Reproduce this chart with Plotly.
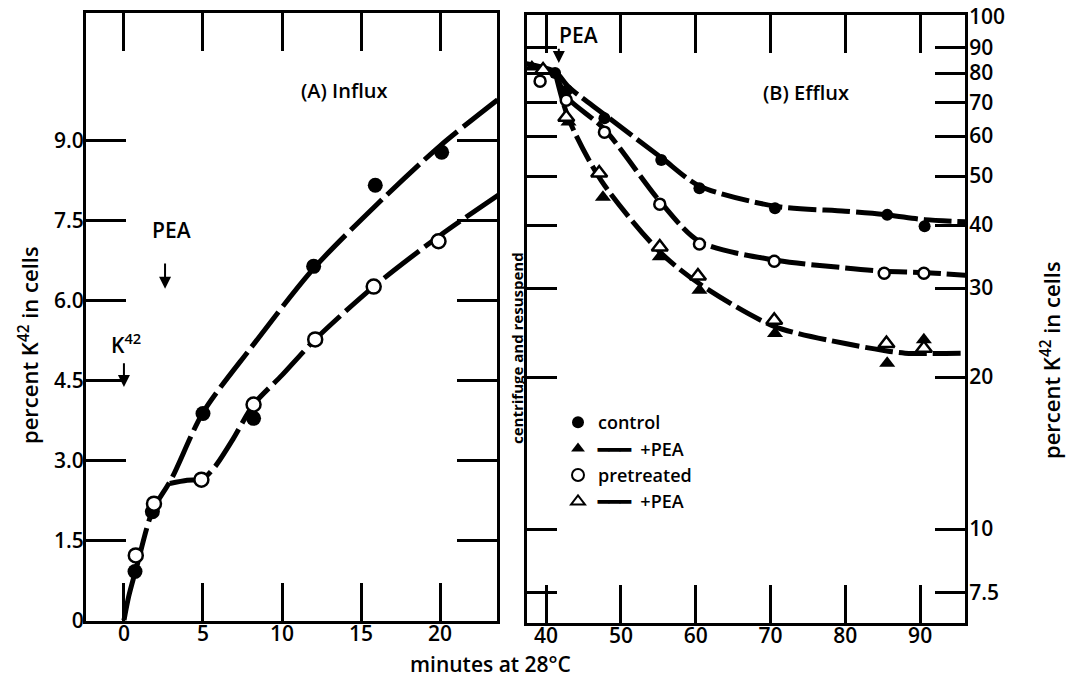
import plotly.graph_objects as go

# ---------------- (A) Influx: minutes 0-24, linear percent ----------------
influx_ctrl_t = [0.7, 1.8, 5.0, 8.2, 12.0, 15.9, 20.1]
influx_ctrl_k = [0.92, 2.04, 3.88, 3.79, 6.64, 8.16, 8.78]
influx_pre_t = [0.75, 1.9, 4.9, 8.2, 12.1, 15.8, 19.9]
influx_pre_k = [1.22, 2.19, 2.64, 4.05, 5.27, 6.26, 7.11]

# hand-fitted curves through the influx points
influx_ctrl_fit_t = [0, 0.3, 0.8, 1.8, 3.0, 5.0, 8.0, 12.0, 16.0, 20.0, 23.8]
influx_ctrl_fit_k = [0, 0.45, 1.0, 2.05, 2.65, 3.9, 5.1, 6.6, 7.8, 8.9, 9.8]
influx_pre_fit_t = [2.9, 4.0, 5.0, 5.8, 6.9, 8.2, 10.0, 12.1, 15.8, 20.0, 23.8]
influx_pre_fit_k = [2.57, 2.63, 2.66, 2.9, 3.4, 4.05, 4.6, 5.27, 6.26, 7.22, 8.0]

influx_x_ticks = [0, 5, 10, 15, 20]
influx_y_ticks = [0, 1.5, 3.0, 4.5, 6.0, 7.5, 9.0]
influx_y_text = ["0", "1.5", "3.0", "4.5", "6.0", "7.5", "9.0"]

# ---------------- (B) Efflux: minutes 38-96, log percent ----------------
efflux_ctrl_t = [41.2, 42.8, 47.8, 55.4, 60.5, 70.6, 85.6, 90.6]
efflux_ctrl_k = [80.0, 74.0, 65.1, 53.8, 47.3, 43.2, 41.9, 39.8]
efflux_ctrl_pea_t = [38.1, 43.0, 47.6, 55.2, 60.5, 70.6, 85.6, 90.5]
efflux_ctrl_pea_k = [82.2, 64.0, 45.4, 34.6, 29.7, 24.4, 21.3, 23.7]
efflux_pre_t = [39.2, 42.7, 47.8, 55.2, 60.5, 70.5, 85.2, 90.5]
efflux_pre_k = [77.1, 70.7, 61.1, 44.0, 36.7, 33.9, 32.1, 32.1]
efflux_pre_pea_t = [39.6, 42.7, 47.1, 55.2, 60.3, 70.5, 85.5, 90.5]
efflux_pre_pea_k = [81.1, 65.4, 50.7, 36.2, 31.7, 25.9, 23.3, 22.8]

efflux_ctrl_fit_t = [37.4, 41.2, 43.0, 47.8, 55.4, 60.5, 70.6, 80.0, 85.6, 90.6, 96.3]
efflux_ctrl_fit_k = [83.5, 80.5, 75.1, 66.2, 54.4, 47.8, 43.6, 42.6, 41.9, 41.0, 40.6]
efflux_pre_fit_t = [41.2, 42.7, 47.8, 55.2, 60.5, 70.5, 80.0, 85.2, 90.5, 96.3]
efflux_pre_fit_k = [80.5, 71.9, 61.9, 44.6, 37.1, 34.1, 32.9, 32.4, 32.2, 31.8]
efflux_pea_fit_t = [41.2, 43.0, 47.4, 55.2, 60.5, 70.5, 80.0, 85.0, 88.0, 96.3]
efflux_pea_fit_k = [80.5, 65.0, 48.9, 35.4, 30.6, 25.2, 23.3, 22.6, 22.3, 22.3]

efflux_x_ticks = [40, 50, 60, 70, 80, 90]
efflux_y_ticks = [7.5, 10, 20, 30, 40, 50, 60, 70, 80, 90]
efflux_y_text = ["7.5", "10", "20", "30", "40", "50", "60", "70", "80", "90"]
efflux_y_top_text = "100"

FONT = "Open Sans"
INK = "black"
W, H = 1068, 677

fig = go.Figure()


def curve(x, y, xa, ya, width=5, dash="44px,7px"):
    fig.add_trace(go.Scatter(
        x=x, y=y, xaxis=xa, yaxis=ya, mode="lines", showlegend=False,
        line=dict(color=INK, width=width, dash=dash, shape="spline", smoothing=0.8),
        hoverinfo="skip"))


def points(x, y, xa, ya, symbol, filled, size, name=None, legend=False):
    fig.add_trace(go.Scatter(
        x=x, y=y, xaxis=xa, yaxis=ya, mode="markers", name=name, showlegend=legend,
        marker=dict(symbol=symbol, size=size,
                    color=INK if filled else "white",
                    line=dict(color=INK, width=2.5 if not filled else 0))))


# influx curves and points
curve(influx_ctrl_fit_t, influx_ctrl_fit_k, "x", "y")
curve(influx_pre_fit_t, influx_pre_fit_k, "x", "y")
points(influx_ctrl_t, influx_ctrl_k, "x", "y", "circle", True, 15)
points(influx_pre_t, influx_pre_k, "x", "y", "circle", False, 14)

# efflux curves and points
curve(efflux_ctrl_fit_t, efflux_ctrl_fit_k, "x2", "y2", dash="28px,6px")
curve(efflux_pre_fit_t, efflux_pre_fit_k, "x2", "y2", dash="28px,6px")
curve(efflux_pea_fit_t, efflux_pea_fit_k, "x2", "y2", dash="28px,6px")
LINE = "\u2501\u2501\u2501"
points(efflux_ctrl_t, efflux_ctrl_k, "x2", "y2", "circle", True, 12,
       name="control", legend=True)
points(efflux_ctrl_pea_t, efflux_ctrl_pea_k, "x2", "y2", "triangle-up", True, 14,
       name=LINE + "  +PEA", legend=True)
points(efflux_pre_t, efflux_pre_k, "x2", "y2", "circle", False, 11,
       name="pretreated", legend=True)
points(efflux_pre_pea_t, efflux_pre_pea_k, "x2", "y2", "triangle-up", False, 14,
       name=LINE + "  +PEA", legend=True)

axis_common = dict(
    showline=True, linewidth=3, linecolor=INK, mirror="allticks", automargin=False,
    ticks="inside", tickwidth=3, tickcolor=INK, showgrid=False, zeroline=False,
    tickfont=dict(family=FONT, size=21, color=INK, weight=600),
)

# pixel geometry of the two frames
L0, L1, R0, R1 = 86, 497, 527, 965
LT, LB, RT, RB = 13, 620.5, 15, 623

fig.update_layout(
    width=W, height=H, margin=dict(l=0, r=0, t=0, b=0, autoexpand=False),
    paper_bgcolor="white", plot_bgcolor="white",
    font=dict(family=FONT, color=INK),
    xaxis=dict(axis_common, domain=[L0 / W, L1 / W], range=[-2.4, 23.6],
               tickvals=influx_x_ticks, ticklen=38, ticklabelstandoff=-8, anchor="y"),
    yaxis=dict(axis_common, domain=[(H - LB) / H, (H - LT) / H], range=[0, 11.39],
               tickvals=influx_y_ticks, ticktext=influx_y_text, ticklen=40,
               ticklabelstandoff=-5, anchor="x"),
    xaxis2=dict(axis_common, domain=[R0 / W, R1 / W], range=[37.45, 96.0],
                tickvals=efflux_x_ticks, ticklen=38, ticklabelstandoff=-8, anchor="y2"),
    yaxis2=dict(axis_common, type="log", domain=[(H - RB) / H, (H - RT) / H],
                range=[0.814, 2.018], side="right",
                tickvals=efflux_y_ticks, ticktext=efflux_y_text, ticklen=30,
                ticklabelstandoff=-3, anchor="x2"),
    legend=dict(x=(579 - 21) / W, y=(H - 404) / H, xanchor="left", yanchor="top",
                bgcolor="rgba(0,0,0,0)", borderwidth=0,
                font=dict(family=FONT, size=18, color=INK, weight=600),
                itemsizing="constant", tracegroupgap=0),
)

ann = []
txt = dict(family=FONT, size=21, color=INK, weight=600)


def label(x, y, text, xref, yref, **kw):
    d = dict(x=x, y=y, xref=xref, yref=yref, text=text, showarrow=False,
             xanchor="center", yanchor="middle", font=txt)
    d.update(kw)
    ann.append(d)


def arrow(x, y0, y1, xref, yref):
    ann.append(dict(x=x, y=y1, xref=xref, yref=yref, ax=x, ay=y0,
                    axref=xref, ayref=yref, text="", showarrow=True,
                    arrowhead=2, arrowsize=1.2, arrowwidth=2, arrowcolor=INK))


# panel (A) labels
label(13.9, 9.94, "(A) Influx", "x", "y", font=dict(txt, size=20))
label(3.0, 7.33, "PEA", "x", "y")
arrow(2.6, 6.72, 6.22, "x", "y")
label(0.1, 5.2, "K<sup>42</sup>", "x", "y")
arrow(0, 4.85, 4.38, "x", "y")

# panel (B) labels (log axis: y given as log10 of percent)
label(74.8, 1.865, "(B) Efflux", "x2", "y2", font=dict(txt, size=20))
label(44.3, 1.978, "PEA", "x2", "y2")
arrow(41.7, 1.954, 1.923, "x2", "y2")
# top-of-scale label printed level with the upper frame
label((R1 + 2) / W, (H - 16) / H, efflux_y_top_text, "paper", "paper",
      xanchor="left")

# axis titles
label(28 / W, (H - 345) / H, "percent K<sup>42</sup> in cells", "paper", "paper",
      textangle=-90, font=dict(txt, size=22))
label(1050 / W, (H - 360) / H, "percent K<sup>42</sup> in cells", "paper", "paper",
      textangle=-90, font=dict(txt, size=22))
label(490 / W, (H - 664) / H, "minutes at 28\u00b0C", "paper", "paper",
      font=dict(txt, size=21))
label(517 / W, (H - 348) / H, "centrifuge and resuspend", "paper", "paper",
      textangle=-90, font=dict(txt, size=15, weight=700))

fig.update_layout(annotations=ann)
fig.write_html("out.html")
